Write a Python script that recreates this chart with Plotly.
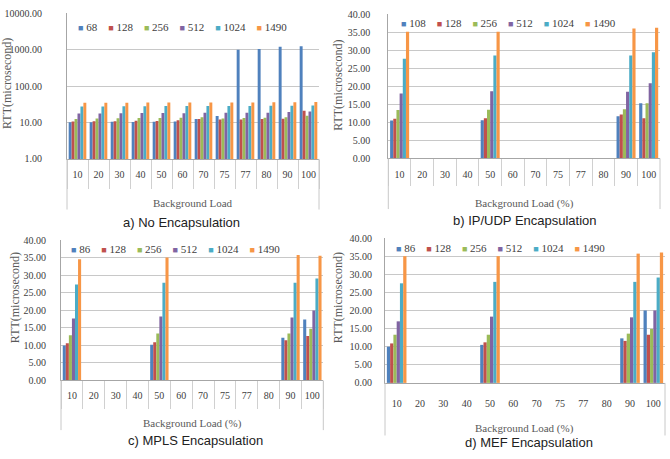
import plotly.graph_objects as go

# ---------------- data ----------------
categories = ["10", "20", "30", "40", "50", "60", "70", "75", "77", "80", "90", "100"]
colors = ["#4F81BD", "#C0504D", "#9BBB59", "#8064A2", "#4BACC6", "#F79646"]

# a) No Encapsulation (log scale)
a_names = ["68", "128", "256", "512", "1024", "1490"]
a_68 = [10.1, 10.2, 10.4, 10.3, 10.5, 10.6, 12.5, 15.0, 1000, 1050, 1200, 1250]
a_128 = [10.6, 10.8, 10.9, 11.2, 11.0, 11.5, 12.4, 12.0, 12.0, 12.5, 12.6, 21.0]
a_256 = [12.5, 12.8, 13.0, 13.2, 13.3, 13.5, 14.0, 12.8, 13.2, 13.5, 14.0, 15.2]
a_512 = [17.6, 17.8, 18.0, 18.2, 18.3, 18.0, 18.5, 18.5, 18.6, 18.5, 19.5, 20.2]
a_1024 = [27.3, 27.5, 27.8, 28.0, 28.2, 28.5, 28.5, 28.5, 28.6, 29.0, 29.0, 29.3]
a_1490 = [34.8, 34.9, 35.0, 35.2, 35.3, 35.5, 35.6, 35.5, 35.7, 35.8, 36.0, 36.3]

N = None
# b) IP/UDP Encapsulation
b_names = ["108", "128", "256", "512", "1024", "1490"]
b_108 = [10.5, N, N, N, 10.6, N, N, N, N, N, 11.7, 15.3]
b_128 = [11.0, N, N, N, 11.1, N, N, N, N, N, 12.2, 11.1]
b_256 = [13.4, N, N, N, 13.5, N, N, N, N, N, 13.6, 15.3]
b_512 = [18.0, N, N, N, 18.6, N, N, N, N, N, 18.5, 20.8]
b_1024 = [27.6, N, N, N, 28.5, N, N, N, N, N, 28.5, 29.4]
b_1490 = [35.1, N, N, N, 35.1, N, N, N, N, N, 36.0, 36.2]

# c) MPLS Encapsulation
c_names = ["86", "128", "256", "512", "1024", "1490"]
c_86 = [10.0, N, N, N, 10.2, N, N, N, N, N, 12.2, 17.4]
c_128 = [10.6, N, N, N, 10.9, N, N, N, N, N, 11.5, 12.7]
c_256 = [12.9, N, N, N, 13.4, N, N, N, N, N, 13.4, 14.8]
c_512 = [17.7, N, N, N, 18.3, N, N, N, N, N, 18.0, 20.0]
c_1024 = [27.4, N, N, N, 27.9, N, N, N, N, N, 27.9, 29.1]
c_1490 = [34.6, N, N, N, 35.1, N, N, N, N, N, 35.8, 35.6]

# d) MEF Encapsulation
d_names = ["86", "128", "256", "512", "1024", "1490"]
d_86 = [10.0, N, N, N, 10.5, N, N, N, N, N, 12.3, 20.0]
d_128 = [10.9, N, N, N, 11.2, N, N, N, N, N, 11.6, 13.3]
d_256 = [13.3, N, N, N, 13.3, N, N, N, N, N, 13.6, 14.9]
d_512 = [17.0, N, N, N, 18.3, N, N, N, N, N, 18.1, 20.0]
d_1024 = [27.5, N, N, N, 27.9, N, N, N, N, N, 27.9, 29.1]
d_1490 = [35.0, N, N, N, 35.0, N, N, N, N, N, 35.7, 36.0]

panels = [
    dict(names=a_names, series=[a_68, a_128, a_256, a_512, a_1024, a_1490],
         title="a) No Encapsulation", xtitle="Background Load", log=True),
    dict(names=b_names, series=[b_108, b_128, b_256, b_512, b_1024, b_1490],
         title="b) IP/UDP Encapsulation", xtitle="Background Load (%)", log=False),
    dict(names=c_names, series=[c_86, c_128, c_256, c_512, c_1024, c_1490],
         title="c) MPLS Encapsulation", xtitle="Background Load (%)", log=False),
    dict(names=d_names, series=[d_86, d_128, d_256, d_512, d_1024, d_1490],
         title="d) MEF Encapsulation", xtitle="Background Load (%)", log=False),
]

# ---------------- layout (pixels) ----------------
W, H = 670, 459
geom = [
    dict(l=67, r=319, t=7.5, b=157, tick=29, xstand=6, outer=52, ystand=22,
         leg=(76, 22), ttl=(182, 222), axt=(193, 202), yt=(7, 80), ticks=True),
    dict(l=388.3, r=660, t=8.3, b=156.5, tick=27, xstand=7, outer=52, ystand=15,
         leg=(399, 17.5), ttl=(525, 220), axt=(524, 203), yt=(338, 82), ticks=True),
    dict(l=61, r=323.3, t=240.7, b=384.5, tick=27.5, xstand=6, outer=51, ystand=12,
         leg=(69, 250), ttl=(195, 446), axt=(192, 429), yt=(15, 300), ticks=True),
    dict(l=385, r=665, t=238.3, b=387, tick=1, xstand=11, outer=54, ystand=10,
         leg=(394, 248.5), ttl=(529, 448), axt=(524, 434), yt=(338, 300), ticks=False),
]

serif = "Liberation Serif"
fig = go.Figure()
annotations = []
shapes = []
layout = {}

for i, (p, g) in enumerate(zip(panels, geom)):
    sfx = "" if i == 0 else str(i + 1)
    xa, ya = "x" + sfx, "y" + sfx
    for name, vals, col in zip(p["names"], p["series"], colors):
        fig.add_trace(go.Bar(x=categories, y=vals, name=name, marker_color=col,
                             marker_line_width=0, xaxis=xa, yaxis=ya,
                             showlegend=False))
    ph = g["b"] - g["t"]
    layout["xaxis" + sfx] = dict(
        domain=[g["l"] / W, g["r"] / W], anchor=ya, type="category",
        categoryorder="array", categoryarray=categories,
        showline=True, linecolor="#A6A6A6", linewidth=1,
        ticks="outside", tickson="boundaries", ticklen=g["tick"],
        tickcolor="#D0D0D0" if g["ticks"] else "rgba(0,0,0,0)", tickwidth=1,
        tickangle=0, ticklabelstandoff=g["xstand"],
        tickfont=dict(family=serif, size=10, color="#404040"),
        showgrid=False, zeroline=False, fixedrange=True,
    )
    yax = dict(
        domain=[1 - g["b"] / H, 1 - g["t"] / H], anchor=xa,
        showline=True, linecolor="#A6A6A6", linewidth=1,
        showgrid=True, gridcolor="#C8C8C8", gridwidth=1, zeroline=False,
        tickfont=dict(family=serif, size=10, color="#404040"),
        ticks="", ticklabelstandoff=g["ystand"], tickformat=".2f",
    )
    if p["log"]:
        yax.update(type="log", range=[0, 4], tickvals=[1, 10, 100, 1000, 10000])
    else:
        yax.update(range=[0, 40], dtick=5, tick0=0)
    layout["yaxis" + sfx] = yax

    # outer boundary lines of the category axis
    for xd in (0, 1):
        shapes.append(dict(type="line", xref=xa + " domain", yref=ya + " domain",
                           x0=xd, x1=xd, y0=0, y1=-g["outer"] / ph,
                           line=dict(color="#C8C8C8", width=1)))

    # legend (inside plot, top)
    parts = [f"<span style='color:{c};font-size:9px'>■</span>\u00a0{n}"
             for n, c in zip(p["names"], colors)]
    annotations.append(dict(text=("\u00a0" * 4).join(parts), xref="paper", yref="paper",
                            x=g["leg"][0] / W, y=1 - g["leg"][1] / H,
                            xanchor="left", yanchor="middle", showarrow=False,
                            font=dict(family=serif, size=11, color="#404040")))
    # x axis title
    annotations.append(dict(text=p["xtitle"], xref="paper", yref="paper",
                            x=g["axt"][0] / W, y=1 - g["axt"][1] / H,
                            xanchor="center", yanchor="middle", showarrow=False,
                            font=dict(family=serif, size=11, color="#595959")))
    # y axis title
    annotations.append(dict(text="RTT(microsecond)", xref="paper", yref="paper",
                            x=g["yt"][0] / W, y=1 - g["yt"][1] / H, textangle=-90,
                            xanchor="center", yanchor="middle", showarrow=False,
                            font=dict(family=serif, size=12, color="#595959")))
    # panel caption
    annotations.append(dict(text=p["title"], xref="paper", yref="paper",
                            x=g["ttl"][0] / W, y=1 - g["ttl"][1] / H,
                            xanchor="center", yanchor="middle", showarrow=False,
                            font=dict(family="Liberation Sans", size=13, color="#222222")))

fig.update_layout(
    width=W, height=H, margin=dict(l=0, r=0, t=0, b=0),
    paper_bgcolor="white", plot_bgcolor="white",
    barmode="group", bargap=0.16, bargroupgap=0,
    showlegend=False, annotations=annotations, shapes=shapes,
    **layout,
)
fig.write_html("out.html")
